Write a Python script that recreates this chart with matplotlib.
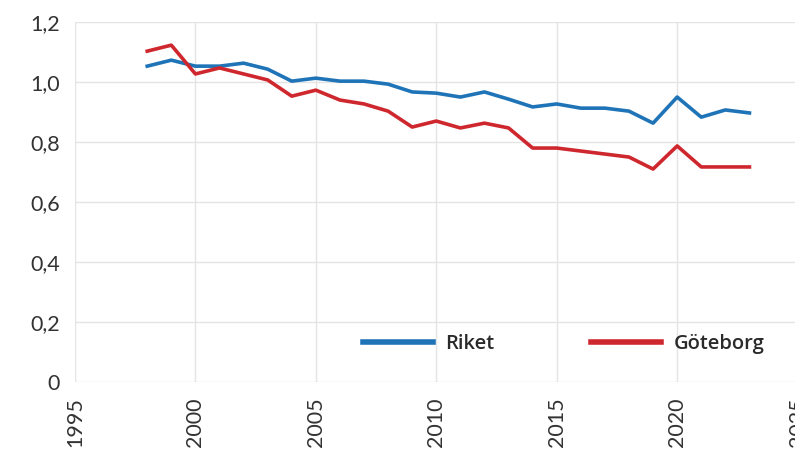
import matplotlib

matplotlib.use("Agg")
import matplotlib.pyplot as plt

years = list(range(1998, 2024))
riket = [1.053, 1.073, 1.053, 1.053, 1.063, 1.043, 1.003, 1.013, 1.003, 1.003,
         0.993, 0.967, 0.963, 0.950, 0.967, 0.943, 0.917, 0.927, 0.913, 0.913,
         0.903, 0.863, 0.950, 0.883, 0.907, 0.897]
goteborg = [1.103, 1.123, 1.027, 1.047, 1.027, 1.007, 0.953, 0.973, 0.940, 0.927,
            0.903, 0.850, 0.870, 0.847, 0.863, 0.847, 0.780, 0.780, 0.770, 0.760,
            0.750, 0.710, 0.787, 0.717, 0.717, 0.717]

x_ticks = [1995, 2000, 2005, 2010, 2015, 2020, 2025]
y_ticks = [0, 0.2, 0.4, 0.6, 0.8, 1.0, 1.2]
y_labels = ["0", "0,2", "0,4", "0,6", "0,8", "1,0", "1,2"]

BLUE = "#1f74b8"
RED = "#cf272e"

fig = plt.figure(figsize=(7.95, 4.5), dpi=100)
ax = fig.add_axes([0.0943, 0.151, 0.909, 0.80])

ax.plot(years, riket, color=BLUE, lw=2.6, label="Riket")
ax.plot(years, goteborg, color=RED, lw=2.6, label="Göteborg")

ax.set_xlim(1995, 2025)
ax.set_ylim(0, 1.2)
ax.set_xticks(x_ticks)
ax.set_xticklabels([str(t) for t in x_ticks], rotation=90, family="Lato",
                   fontsize=15.5, color="#333333")
ax.set_yticks(y_ticks)
ax.set_yticklabels(y_labels, family="Lato", fontsize=15.5, color="#333333")
ax.tick_params(length=0, pad=11)
ax.grid(True, color="#e4e4e4", lw=1)
ax.set_axisbelow(True)
for s in ax.spines.values():
    s.set_visible(False)

leg = ax.legend(loc="center left", bbox_to_anchor=(0.398, 0.105), ncol=2,
                frameon=False, handlelength=3.5, handletextpad=0.6,
                columnspacing=4.8, borderpad=0, borderaxespad=0,
                prop={"family": "Open Sans", "weight": "semibold", "size": 14.5})
for h in leg.get_lines():
    h.set_linewidth(4)
for t in leg.get_texts():
    t.set_color("#2a2a2a")

fig.savefig("out.png", dpi=100)
